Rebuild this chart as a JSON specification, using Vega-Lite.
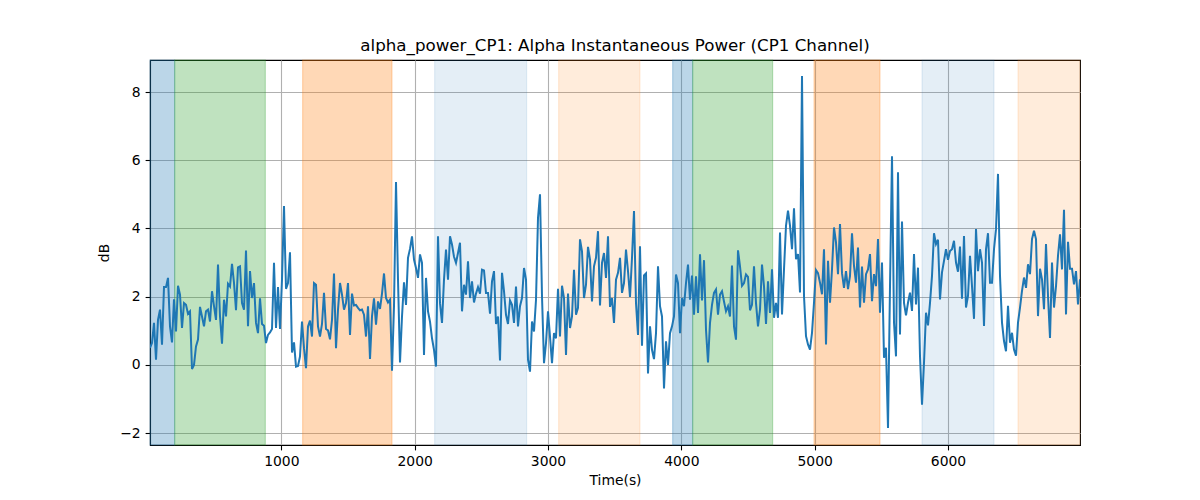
{
  "$schema": "https://vega.github.io/schema/vega-lite/v6.json",
  "width": 930,
  "height": 385,
  "autosize": {"type": "none"},
  "padding": {"left": 150, "top": 60, "right": 120, "bottom": 55},
  "title": {
    "text": "alpha_power_CP1: Alpha Instantaneous Power (CP1 Channel)",
    "font": "DejaVu Sans",
    "fontSize": 16.7,
    "fontWeight": "normal",
    "color": "black",
    "offset": 5
  },
  "config": {
    "view": {"stroke": "black", "strokeWidth": 1.1},
    "axis": {
      "labelFont": "DejaVu Sans",
      "labelFontSize": 13.9,
      "labelColor": "black",
      "titleFont": "DejaVu Sans",
      "titleFontSize": 13.9,
      "titleFontWeight": "normal",
      "titleColor": "black",
      "domainColor": "black",
      "domainWidth": 1.1,
      "tickColor": "black",
      "tickWidth": 1.1,
      "tickSize": 4.9,
      "labelPadding": 4.9,
      "gridColor": "#b0b0b0",
      "gridWidth": 1.1
    }
  },
  "datasets": {
    "bands": [
      {"start": 15, "end": 200, "kind": "blue"},
      {"start": 200, "end": 880, "kind": "green"},
      {"start": 1160, "end": 1830, "kind": "orange"},
      {"start": 2150, "end": 2840, "kind": "light blue"},
      {"start": 3080, "end": 3690, "kind": "light orange"},
      {"start": 3935, "end": 4085, "kind": "blue"},
      {"start": 4085, "end": 4685, "kind": "green"},
      {"start": 4995, "end": 5490, "kind": "orange"},
      {"start": 5805, "end": 6345, "kind": "light blue"},
      {"start": 6525, "end": 6990, "kind": "light orange"}
    ],
    "power": [
      {"t":15,"v":0.5},{"t":30,"v":0.64},{"t":45,"v":1.23},{"t":60,"v":0.15},{"t":75,"v":1.32},{"t":90,"v":1.62},{"t":105,"v":0.59},{"t":120,"v":2.28},{"t":135,"v":2.28},{"t":150,"v":2.55},
      {"t":165,"v":1.13},{"t":180,"v":0.66},{"t":195,"v":1.92},{"t":210,"v":0.98},{"t":225,"v":2.32},{"t":240,"v":2.06},{"t":255,"v":1.08},{"t":270,"v":1.81},{"t":285,"v":1.76},{"t":300,"v":1.5},
      {"t":315,"v":1.57},{"t":330,"v":-0.12},{"t":345,"v":0},{"t":360,"v":0.54},{"t":375,"v":0.74},{"t":390,"v":1.7},{"t":405,"v":1.42},{"t":420,"v":1.13},{"t":435,"v":1.57},{"t":450,"v":1.62},
      {"t":465,"v":1.27},{"t":480,"v":2.16},{"t":495,"v":1.72},{"t":510,"v":1.32},{"t":525,"v":2.94},{"t":540,"v":1.42},{"t":555,"v":0.62},{"t":570,"v":1.91},{"t":585,"v":1.42},{"t":600,"v":2.38},
      {"t":615,"v":2.3},{"t":630,"v":2.96},{"t":645,"v":2.4},{"t":660,"v":1.6},{"t":675,"v":2.86},{"t":690,"v":2.89},{"t":705,"v":1.81},{"t":720,"v":1.62},{"t":735,"v":3.35},{"t":750,"v":1.13},
      {"t":765,"v":2.75},
      {"t":780,"v":1.96},{"t":795,"v":2.4},{"t":810,"v":1.23},{"t":825,"v":0.93},{"t":840,"v":1.95},{"t":855,"v":1.2},{"t":870,"v":1.15},{"t":885,"v":0.64},{"t":900,"v":0.88},{"t":915,"v":0.95},
      {"t":930,"v":1.05},{"t":945,"v":2.99},{"t":960,"v":1.08},{"t":975,"v":2.28},{"t":990,"v":1.05},{"t":1005,"v":2.5},{"t":1020,"v":4.66},{"t":1035,"v":2.23},{"t":1050,"v":2.4},{"t":1065,"v":3.3},
      {"t":1080,"v":0.36},{"t":1095,"v":0.66},{"t":1110,"v":-0.05},{"t":1125,"v":-0.03},{"t":1140,"v":0.25},{"t":1155,"v":1.27},{"t":1170,"v":0.49},{"t":1185,"v":-0.1},{"t":1200,"v":1.13},{"t":1215,"v":1.3},
      {"t":1230,"v":0.83},{"t":1245,"v":2.4},{"t":1260,"v":2.35},{"t":1275,"v":1.13},{"t":1290,"v":0.83},{"t":1305,"v":1.2},{"t":1320,"v":2.11},{"t":1335,"v":1.05},{"t":1350,"v":1.01},{"t":1365,"v":0.75},
      {"t":1380,"v":1.32},{"t":1395,"v":2.68},{"t":1410,"v":0.49},{"t":1425,"v":1.62},{"t":1440,"v":2.4},{"t":1455,"v":2.06},{"t":1470,"v":1.62},{"t":1485,"v":1.81},{"t":1500,"v":2.4},{"t":1515,"v":0.88},
      {"t":1530,"v":2.09},{"t":1545,"v":1.74},
      {"t":1560,"v":1.76},{"t":1575,"v":1.67},{"t":1590,"v":1.6},{"t":1605,"v":1.62},{"t":1620,"v":1.47},{"t":1635,"v":0.83},{"t":1650,"v":1.72},{"t":1665,"v":0.17},{"t":1680,"v":1.42},{"t":1695,"v":1.95},
      {"t":1710,"v":1.18},{"t":1725,"v":1.86},{"t":1740,"v":1.64},{"t":1755,"v":2.09},{"t":1770,"v":2.68},{"t":1785,"v":1.96},{"t":1800,"v":1.83},{"t":1815,"v":1.91},{"t":1830,"v":-0.17},{"t":1845,"v":1.72},
      {"t":1860,"v":5.36},{"t":1875,"v":2.5},{"t":1890,"v":0.07},{"t":1905,"v":1.42},{"t":1920,"v":2.42},{"t":1935,"v":1.76},{"t":1950,"v":3.14},{"t":1965,"v":3.4},{"t":1980,"v":3.77},{"t":1995,"v":3.09},
      {"t":2010,"v":2.84},{"t":2025,"v":2.55},{"t":2040,"v":3.24},{"t":2055,"v":2.99},{"t":2070,"v":0.29},{"t":2085,"v":2.55},{"t":2100,"v":1.57},{"t":2115,"v":1.27},{"t":2130,"v":0.78},{"t":2145,"v":0.44},
      {"t":2160,"v":-0.05},{"t":2175,"v":3.77},{"t":2190,"v":1.81},{"t":2205,"v":1.23},{"t":2220,"v":2.5},{"t":2235,"v":3.38},{"t":2250,"v":2.5},{"t":2265,"v":3.77},{"t":2280,"v":3.53},{"t":2295,"v":3.17},
      {"t":2310,"v":2.99},{"t":2325,"v":3.28},
      {"t":2340,"v":3.58},{"t":2355,"v":1.57},{"t":2370,"v":2.35},{"t":2385,"v":2.06},{"t":2400,"v":3.04},{"t":2415,"v":1.96},{"t":2430,"v":2.45},{"t":2445,"v":1.83},{"t":2460,"v":2.09},{"t":2475,"v":2.28},
      {"t":2490,"v":2.09},{"t":2505,"v":2.79},{"t":2520,"v":2.77},{"t":2535,"v":2.11},{"t":2550,"v":2.11},{"t":2565,"v":1.5},{"t":2580,"v":2.45},{"t":2595,"v":2.75},{"t":2610,"v":1.2},{"t":2625,"v":1.42},
      {"t":2640,"v":0.13},{"t":2655,"v":2.7},{"t":2670,"v":2.16},{"t":2685,"v":1.47},{"t":2700,"v":1.2},{"t":2715,"v":1.89},{"t":2730,"v":1.76},{"t":2745,"v":1.23},{"t":2760,"v":2.3},{"t":2775,"v":1.13},
      {"t":2790,"v":1.72},{"t":2805,"v":1.96},{"t":2820,"v":2.84},{"t":2835,"v":2.5},{"t":2850,"v":0.15},{"t":2865,"v":-0.2},{"t":2880,"v":1.27},{"t":2895,"v":0.98},{"t":2910,"v":1.91},{"t":2925,"v":4.31},
      {"t":2940,"v":5.0},{"t":2955,"v":2.01},{"t":2970,"v":0.05},{"t":2985,"v":0.64},{"t":3000,"v":1.57},{"t":3015,"v":0.83},{"t":3030,"v":0.05},{"t":3045,"v":0.93},{"t":3060,"v":0.78},{"t":3075,"v":2.23},
      {"t":3090,"v":0.83},{"t":3105,"v":2.32},
      {"t":3120,"v":1.96},{"t":3135,"v":0.29},{"t":3150,"v":2.09},{"t":3165,"v":1.08},{"t":3180,"v":1.42},{"t":3195,"v":2.79},{"t":3210,"v":1.47},{"t":3225,"v":1.67},{"t":3240,"v":3.68},{"t":3255,"v":3.33},
      {"t":3270,"v":1.96},{"t":3285,"v":2.35},{"t":3300,"v":3.46},{"t":3315,"v":3.09},{"t":3330,"v":1.86},{"t":3345,"v":2.89},{"t":3360,"v":3.14},{"t":3375,"v":3.92},{"t":3390,"v":1.74},{"t":3405,"v":2.99},
      {"t":3420,"v":3.28},{"t":3435,"v":2.55},{"t":3450,"v":3.77},{"t":3465,"v":1.7},{"t":3480,"v":1.96},{"t":3495,"v":1.23},{"t":3510,"v":2.5},{"t":3525,"v":2.7},{"t":3540,"v":3.14},{"t":3555,"v":2.11},
      {"t":3570,"v":2.4},{"t":3585,"v":3.38},{"t":3600,"v":2.75},{"t":3615,"v":1.99},{"t":3630,"v":3.14},{"t":3645,"v":4.51},{"t":3660,"v":1.81},{"t":3675,"v":0.88},{"t":3690,"v":3.48},{"t":3705,"v":0.56},
      {"t":3720,"v":2.62},{"t":3735,"v":2.68},{"t":3750,"v":-0.25},{"t":3765,"v":1.13},{"t":3780,"v":0.44},{"t":3795,"v":0.17},{"t":3810,"v":0.93},{"t":3825,"v":2.89},{"t":3840,"v":1.72},{"t":3855,"v":1.42},
      {"t":3870,"v":-0.69},{"t":3885,"v":0.69},
      {"t":3900,"v":0},{"t":3915,"v":0.93},{"t":3930,"v":1.13},{"t":3945,"v":1.42},{"t":3960,"v":2.65},{"t":3975,"v":2.4},{"t":3990,"v":0.93},{"t":4005,"v":1.96},{"t":4020,"v":1.72},{"t":4035,"v":2.4},
      {"t":4050,"v":2.94},{"t":4065,"v":1.91},{"t":4080,"v":2.62},{"t":4095,"v":1.47},{"t":4110,"v":2.6},{"t":4125,"v":1.52},{"t":4140,"v":3.24},{"t":4155,"v":1.89},{"t":4170,"v":3.07},{"t":4185,"v":1.03},
      {"t":4200,"v":0.07},{"t":4215,"v":1.23},{"t":4230,"v":1.76},{"t":4245,"v":2.11},{"t":4260,"v":2.21},{"t":4275,"v":1.47},{"t":4290,"v":2.06},{"t":4305,"v":2.16},{"t":4320,"v":1.86},{"t":4335,"v":1.57},
      {"t":4350,"v":1.72},{"t":4365,"v":1.42},{"t":4380,"v":2.91},{"t":4395,"v":1.13},{"t":4410,"v":0.74},{"t":4425,"v":3.36},{"t":4440,"v":2.89},{"t":4455,"v":2.32},{"t":4470,"v":2.4},{"t":4485,"v":2.65},
      {"t":4500,"v":2.58},{"t":4515,"v":1.6},{"t":4530,"v":1.76},{"t":4545,"v":2.89},{"t":4560,"v":1.81},{"t":4575,"v":1.13},{"t":4590,"v":1.62},{"t":4605,"v":2.94},{"t":4620,"v":2.3},{"t":4635,"v":1.2},
      {"t":4650,"v":2.45},{"t":4665,"v":1.52},
      {"t":4680,"v":2.8},{"t":4695,"v":1.38},{"t":4710,"v":1.82},{"t":4725,"v":1.38},{"t":4740,"v":3.88},{"t":4755,"v":1.48},{"t":4770,"v":2.8},{"t":4785,"v":4.08},{"t":4800,"v":4.52},{"t":4815,"v":4.08},
      {"t":4830,"v":3.39},{"t":4845,"v":4.59},{"t":4860,"v":3.1},{"t":4875,"v":3.25},{"t":4890,"v":2.12},{"t":4905,"v":8.47},{"t":4920,"v":2.02},{"t":4935,"v":0.84},{"t":4950,"v":0.6},{"t":4965,"v":0.45},
      {"t":4980,"v":0.94},{"t":4995,"v":1.82},{"t":5010,"v":2.78},{"t":5025,"v":2.69},{"t":5040,"v":2.41},{"t":5055,"v":2.07},{"t":5070,"v":3.39},{"t":5085,"v":0.6},{"t":5100,"v":3.05},{"t":5115,"v":1.82},
      {"t":5130,"v":2.8},{"t":5145,"v":4.03},{"t":5160,"v":3.59},{"t":5175,"v":2.66},{"t":5190,"v":4.13},{"t":5205,"v":2.69},{"t":5220,"v":2.26},{"t":5235,"v":2.75},{"t":5250,"v":2.22},{"t":5265,"v":2.61},
      {"t":5280,"v":3.86},{"t":5295,"v":2.9},{"t":5310,"v":2.41},{"t":5325,"v":3.44},{"t":5340,"v":1.68},{"t":5355,"v":2.88},{"t":5370,"v":1.82},{"t":5385,"v":2.66},{"t":5400,"v":2.8},{"t":5415,"v":3.25},
      {"t":5430,"v":1.87},{"t":5445,"v":2.66},
      {"t":5460,"v":2.31},{"t":5475,"v":3.69},{"t":5490,"v":1.53},{"t":5505,"v":3.0},{"t":5520,"v":0.21},{"t":5535,"v":0.5},{"t":5550,"v":-1.85},{"t":5565,"v":2.3},{"t":5580,"v":6.12},{"t":5595,"v":1.24},
      {"t":5610,"v":0.25},{"t":5625,"v":5.65},{"t":5640,"v":0.89},{"t":5655,"v":4.2},{"t":5670,"v":1.82},{"t":5685,"v":1.45},{"t":5700,"v":1.82},{"t":5715,"v":2.12},{"t":5730,"v":1.58},{"t":5745,"v":3.25},
      {"t":5760,"v":1.77},{"t":5775,"v":2.85},{"t":5790,"v":0.25},{"t":5805,"v":-1.17},{"t":5820,"v":0.06},{"t":5835,"v":1.53},{"t":5850,"v":1.16},{"t":5865,"v":1.82},{"t":5880,"v":2.61},{"t":5895,"v":3.86},
      {"t":5910,"v":3.54},{"t":5925,"v":3.67},{"t":5940,"v":1.92},{"t":5955,"v":2.71},{"t":5970,"v":3.05},{"t":5985,"v":3.39},{"t":6000,"v":3.08},{"t":6015,"v":3.34},{"t":6030,"v":3.39},{"t":6045,"v":3.64},
      {"t":6060,"v":3.0},{"t":6075,"v":2.73},{"t":6090,"v":3.47},{"t":6105,"v":1.94},{"t":6120,"v":3.78},{"t":6135,"v":1.68},{"t":6150,"v":2.02},{"t":6165,"v":3.2},{"t":6180,"v":2.31},{"t":6195,"v":1.35},
      {"t":6210,"v":3.98},{"t":6225,"v":2.75},
      {"t":6240,"v":3.39},{"t":6255,"v":3.0},{"t":6270,"v":1.14},{"t":6285,"v":3.39},{"t":6300,"v":3.86},{"t":6315,"v":2.41},{"t":6330,"v":2.41},{"t":6345,"v":3.39},{"t":6360,"v":3.98},{"t":6375,"v":5.6},
      {"t":6390,"v":2.61},{"t":6405,"v":1.24},{"t":6420,"v":0.7},{"t":6435,"v":0.4},{"t":6450,"v":1.73},{"t":6465,"v":0.65},{"t":6480,"v":0.94},{"t":6495,"v":0.45},{"t":6510,"v":0.27},{"t":6525,"v":1.24},
      {"t":6540,"v":1.68},{"t":6555,"v":2.17},{"t":6570,"v":2.56},{"t":6585,"v":2.26},{"t":6600,"v":2.95},{"t":6615,"v":2.66},{"t":6630,"v":3.69},{"t":6645,"v":3.93},{"t":6660,"v":3.69},{"t":6675,"v":1.43},
      {"t":6690,"v":2.82},{"t":6705,"v":2.51},{"t":6720,"v":1.63},{"t":6735,"v":3.54},{"t":6750,"v":2.02},{"t":6765,"v":0.79},{"t":6780,"v":3.0},{"t":6795,"v":1.68},{"t":6810,"v":2.31},{"t":6825,"v":3.2},
      {"t":6840,"v":3.83},{"t":6855,"v":2.8},{"t":6870,"v":4.55},{"t":6885,"v":1.48},{"t":6900,"v":3.61},{"t":6915,"v":2.82},{"t":6930,"v":2.82},{"t":6945,"v":2.36},{"t":6960,"v":2.75},{"t":6975,"v":1.77},
      {"t":6990,"v":2.51}
    ]
  },
  "layer": [
    {
      "data": {"name": "bands"},
      "mark": {"type": "rect", "strokeWidth": 1.1},
      "encoding": {
        "x": {
          "field": "start",
          "type": "quantitative",
          "scale": {"domain": [15, 6990], "nice": false, "zero": false},
          "axis": {"title": "Time(s)", "values": [1000, 2000, 3000, 4000, 5000, 6000], "format": "d", "titlePadding": 5}
        },
        "x2": {"field": "end"},
        "color": {
          "field": "kind",
          "type": "nominal",
          "scale": {
            "domain": ["blue", "green", "orange", "light blue", "light orange"],
            "range": ["rgba(31,119,180,0.3)", "rgba(44,160,44,0.3)", "rgba(255,127,14,0.3)", "rgba(31,119,180,0.12)", "rgba(255,127,14,0.15)"]
          },
          "legend": null
        },
        "stroke": {
          "field": "kind",
          "type": "nominal",
          "scale": {
            "domain": ["blue", "green", "orange", "light blue", "light orange"],
            "range": ["rgba(31,119,180,0.3)", "rgba(44,160,44,0.3)", "rgba(255,127,14,0.3)", "rgba(31,119,180,0.12)", "rgba(255,127,14,0.15)"]
          },
          "legend": null
        }
      }
    },
    {
      "data": {"name": "power"},
      "mark": {"type": "line", "color": "#1f77b4", "strokeWidth": 2, "clip": true},
      "encoding": {
        "x": {"field": "t", "type": "quantitative"},
        "y": {
          "field": "v",
          "type": "quantitative",
          "scale": {"domain": [-2.35, 8.94], "nice": false, "zero": false},
          "axis": {"title": "dB", "values": [-2, 0, 2, 4, 6, 8], "titlePadding": 8}
        }
      }
    }
  ]
}
